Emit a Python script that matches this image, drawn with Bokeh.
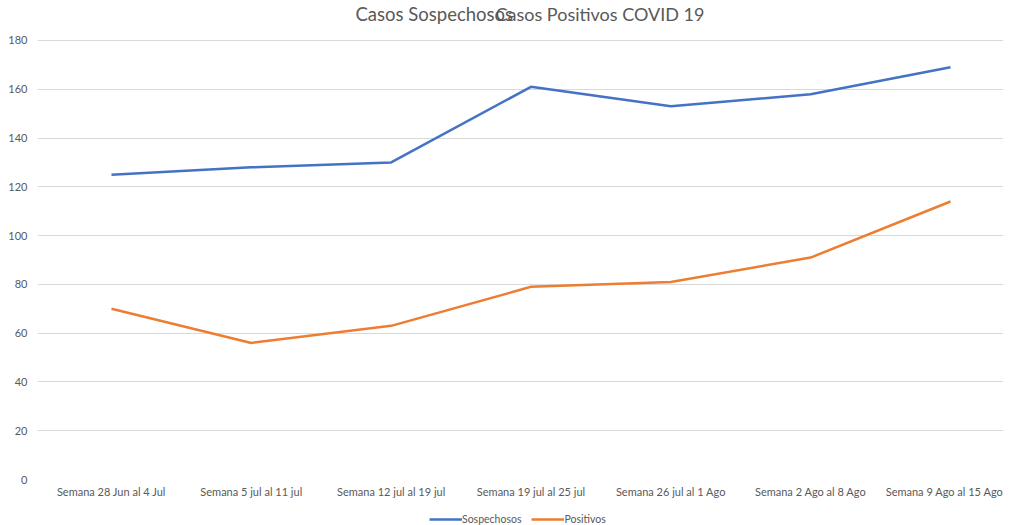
from bokeh.plotting import figure
from bokeh.layouts import column
from bokeh.models import Range1d, FixedTicker, Label, Legend, LegendItem
from bokeh.embed import file_html
from bokeh.resources import INLINE

categories = ["Semana 28 Jun al 4 Jul", "Semana 5 jul al 11 jul", "Semana 12 jul al 19 jul",
              "Semana 19 jul al 25 jul", "Semana 26 jul al 1 Ago", "Semana 2 Ago al 8 Ago",
              "Semana 9 Ago al 15 Ago"]
sospechosos = [125, 128, 130, 161, 153, 158, 169]
positivos = [70, 56, 63, 79, 81, 91, 114]
y_ticks = [0, 20, 40, 60, 80, 100, 120, 140, 160, 180]
title_parts = ["Casos Sospechosos", "Casos Positivos COVID 19"]

FONT = "Lato"
GREY = "#595959"
BLUE = "#4472C4"
ORANGE = "#ED7D31"

xs = list(range(len(categories)))
Y_TOP = 194.35

p = figure(width=1003, height=503, output_backend="svg", toolbar_location=None,
           x_range=Range1d(-0.529, 6.379), y_range=Range1d(0, Y_TOP),
           min_border_left=37, min_border_right=0, min_border_top=5, min_border_bottom=24)
p.outline_line_color = None
p.background_fill_color = "white"
p.border_fill_color = "white"

p.line(xs, sospechosos, line_color=BLUE, line_width=2.5)
p.line(xs, positivos, line_color=ORANGE, line_width=2.5)

p.xgrid.grid_line_color = None
p.ygrid.grid_line_color = "#D9D9D9"
p.ygrid.grid_line_width = 1
p.yaxis.ticker = FixedTicker(ticks=y_ticks)
p.xaxis.ticker = FixedTicker(ticks=xs)
p.xaxis.major_label_overrides = {i: c for i, c in enumerate(categories)}

for ax in (p.xaxis[0], p.yaxis[0]):
    ax.axis_line_color = None
    ax.major_tick_line_color = None
    ax.minor_tick_line_color = None
    ax.major_tick_out = 0
    ax.major_tick_in = 0
    ax.major_label_text_font = FONT
    ax.major_label_text_font_size = "11px"
    ax.major_label_text_color = GREY
p.xaxis.major_label_standoff = 5
p.yaxis.major_label_standoff = 10

# Title (two overlapping pieces as in the reference)
t1 = Label(x=1.745, y=Y_TOP, y_offset=-8, text=title_parts[0],
           text_font=FONT, text_font_size="18.5px", text_color=GREY, text_baseline="middle")
t2 = Label(x=2.746, y=Y_TOP, y_offset=-8, text=title_parts[1],
           text_font=FONT, text_font_size="18px", text_color=GREY, text_baseline="middle")
p.add_layout(t1)
p.add_layout(t2)

# Legend strip
lg = figure(width=1003, height=22, output_backend="svg", toolbar_location=None,
            x_range=Range1d(0, 1), y_range=Range1d(0, 1),
            min_border_left=0, min_border_right=0, min_border_top=0, min_border_bottom=0)
lg.outline_line_color = None
lg.axis.visible = False
lg.grid.visible = False
r1 = lg.line([0, 0], [2, 2], line_color=BLUE, line_width=2.5)
r2 = lg.line([0, 0], [2, 2], line_color=ORANGE, line_width=2.5)
legend = Legend(items=[LegendItem(label="Sospechosos", renderers=[r1]),
                       LegendItem(label="Positivos", renderers=[r2])],
                orientation="horizontal", location=(392, 0),
                label_text_font=FONT, label_text_font_size="10.5px", label_text_color=GREY,
                border_line_color=None, background_fill_alpha=0,
                glyph_width=33, glyph_height=10, spacing=10, label_standoff=0, padding=0, margin=0,
                label_height=10)
lg.add_layout(legend)

layout = column(p, lg, spacing=0)
open("out.html", "w").write(file_html(layout, INLINE))
